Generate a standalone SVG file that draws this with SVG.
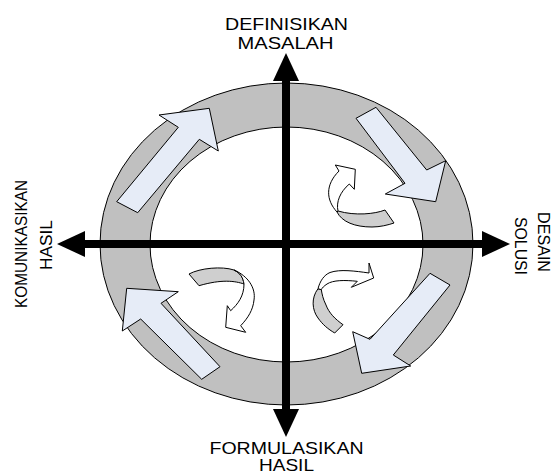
<svg xmlns="http://www.w3.org/2000/svg" width="557" height="475" viewBox="0 0 557 475">
<style>
.lbl{font-family:"Liberation Sans",Arial,sans-serif;font-size:17px;fill:#000;text-anchor:middle}
.big{fill:#e6ecf7;stroke:#000;stroke-width:1;stroke-linejoin:miter}
.cw{fill:#fff;stroke:#000;stroke-width:1}
.cg{fill:#cfcfcf;stroke:#000;stroke-width:1}
.axis{stroke:#000;stroke-width:8;fill:none;marker-start:url(#ah);marker-end:url(#ah)}
</style>
<defs>
<marker id="ah" markerUnits="userSpaceOnUse" viewBox="0 0 28 26" markerWidth="28" markerHeight="26" refX="2" refY="13" orient="auto-start-reverse">
<path d="M0,0 L28,13 L0,26 Z" fill="#000"/>
</marker>
</defs>
<rect width="557" height="475" fill="#fff"/>
<g id="ring">
<ellipse cx="286.5" cy="244" rx="186.5" ry="161" fill="#c0c0c0" stroke="#000" stroke-width="1"/>
<ellipse cx="286.5" cy="244.5" rx="136.5" ry="117.5" fill="#fff" stroke="#000" stroke-width="1"/>
</g>
<g id="arrow-tl"><polygon class="big" points="116.7,201.7 137.7,212.7 199.3,139.3 218.3,151 209.3,108.3 159,115 178.3,127.3"/></g>
<g id="arrow-tr"><polygon class="big" points="356,118.3 376,107.3 426.7,170 445.7,160.7 435.7,201.7 385.3,194 405,183.3"/></g>
<g id="arrow-bl"><polygon class="big" points="126.7,288.3 178.3,291.7 161,303.3 220,366.7 201.7,379.3 140.7,319 122.3,331"/></g>
<g id="arrow-br"><polygon class="big" points="430,273.3 450,285 393.3,355 410.7,366 361.7,373.3 352.7,331.7 370,339.3"/></g>
<g id="curve-tr">
<path class="cg" d="M337,212 C342,222 355,227 372,227 C380,227 388,225 394,223 L385,210 C375,214 355,216 338,211 Z"/>
<path class="cw" d="M337,212 C326,200 325,185 339,171 L335.3,165 L355.3,169.3 L354.3,189.3 L349.3,184 C340,192 336,202 338,211 Z"/>
</g>
<g id="curve-bl">
<path class="cg" d="M189,274 C200,268 222,266 234,270 C240,273 243,277 244,284 C235,281 222,279 199,285.7 Z"/>
<path class="cw" d="M234,270 C248,276 256,288 254,300 C253,310 248,318 240.7,325.7 L245.7,332.3 L225.7,327.3 L227.3,305.7 L230.7,310.7 C238,304 244,296 244,284 C243,277 240,273 234,270 Z"/>
</g>
<g id="curve-br">
<path class="cg" d="M318,288.7 C311,298 312,310 318,318 C323,325 328,329 334.7,333 L343,324.7 C335,319 329,313 326,305 C323,299 322,294 321.3,289.7 Z"/>
<path class="cw" d="M318,288.7 C320,281 324,275 330,272.5 C340,269 355,271 369,273 L369,263 L373.7,278 L351.3,287.3 L357.3,281.3 C345,280 333,280 327,284 C324,286 322,288 321.3,289.7 Z"/>
</g>
<g id="connectors">
<line class="axis" x1="83" y1="244" x2="484" y2="244"/>
<line class="axis" x1="286" y1="79" x2="286" y2="411"/>
</g>
<g id="label-top">
<text class="lbl" x="286.5" y="30" textLength="123" lengthAdjust="spacingAndGlyphs">DEFINISIKAN</text>
<text class="lbl" x="285.5" y="49" textLength="96" lengthAdjust="spacingAndGlyphs">MASALAH</text>
</g>
<g id="label-bottom">
<text class="lbl" x="286.5" y="454" textLength="154" lengthAdjust="spacingAndGlyphs">FORMULASIKAN</text>
<text class="lbl" x="286.5" y="471" textLength="55" lengthAdjust="spacingAndGlyphs">HASIL</text>
</g>
<g id="label-left">
<text class="lbl" transform="translate(27,244) rotate(-90)" textLength="128" lengthAdjust="spacingAndGlyphs">KOMUNIKASIKAN</text>
<text class="lbl" transform="translate(52,245) rotate(-90)" textLength="50" lengthAdjust="spacingAndGlyphs">HASIL</text>
</g>
<g id="label-right">
<text class="lbl" transform="translate(538,242) rotate(90)" textLength="60" lengthAdjust="spacingAndGlyphs">DESAIN</text>
<text class="lbl" transform="translate(515,246) rotate(90)" textLength="58" lengthAdjust="spacingAndGlyphs">SOLUSI</text>
</g>
</svg>
